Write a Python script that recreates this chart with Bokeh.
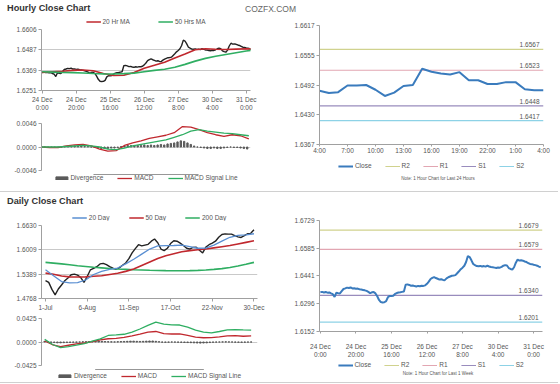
from bokeh.plotting import figure
from bokeh.models import (Div, Legend, LegendItem, Label, FixedTicker,
                          PrintfTickFormatter, Range1d)
from bokeh.layouts import column, row
from bokeh.embed import file_html
from bokeh.resources import INLINE

FONT = "Liberation Sans"
TXT = "#555555"
GRID = "#c9c9c9"
AXIS = "#a0a0a0"
BLACK = "#222222"
RED = "#c0282e"
GREEN = "#2fae62"
BLUE = "#5a8fd2"
CLOSE_BLUE = "#3a7bbd"
DIV_GRAY = "#5a5a5a"
LEVEL_COLORS = ["#d0d28e", "#e2a6b2", "#998cbd", "#8dd2e6"]
LEVEL_NAMES = ["R2", "R1", "S1", "S2"]

# ---------------- hourly (last week) ----------------
hourly_tick_pos = [0, 20, 40, 60, 80, 100, 120]
hourly_tick_labels = ["24 Dec\n0:00", "24 Dec\n20:00", "25 Dec\n16:00", "26 Dec\n12:00",
                      "27 Dec\n8:00", "30 Dec\n4:00", "31 Dec\n0:00"]
hourly_close = [
    1.6356, 1.6358, 1.6355, 1.6357, 1.6354, 1.6355, 1.6350, 1.6346, 1.6332, 1.6354,
    1.6351, 1.6350, 1.6362, 1.6373, 1.6376, 1.6380, 1.6378, 1.6381, 1.6376, 1.6377,
    1.6374, 1.6375, 1.6372, 1.6370, 1.6368, 1.6366, 1.6363, 1.6358, 1.6351, 1.6356,
    1.6357, 1.6350, 1.6335, 1.6316, 1.6305, 1.6303, 1.6304, 1.6310, 1.6330, 1.6337,
    1.6336, 1.6338, 1.6347, 1.6352, 1.6355, 1.6356, 1.6358, 1.6360, 1.6395, 1.6397,
    1.6394, 1.6390, 1.6391, 1.6388, 1.6386, 1.6389, 1.6387, 1.6390, 1.6389, 1.6392,
    1.6400, 1.6411, 1.6425, 1.6431, 1.6435, 1.6430, 1.6426, 1.6422, 1.6424, 1.6420,
    1.6419, 1.6428, 1.6434, 1.6438, 1.6442, 1.6443, 1.6445, 1.6455, 1.6465, 1.6476,
    1.6484, 1.6494, 1.6513, 1.6544, 1.6539, 1.6522, 1.6503, 1.6497, 1.6492, 1.6491,
    1.6493, 1.6490, 1.6492, 1.6489, 1.6494, 1.6490, 1.6487, 1.6486, 1.6484, 1.6482,
    1.6485, 1.6484, 1.6488, 1.6494, 1.6497, 1.6495, 1.6482, 1.6477, 1.6474, 1.6486,
    1.6510, 1.6526, 1.6521, 1.6522, 1.6520, 1.6516, 1.6513, 1.6508, 1.6503, 1.6502,
    1.6499, 1.6497, 1.6494, 1.6489, 1.6486,
]
hourly_index = list(range(len(hourly_close)))

ma_hours = [0, 6, 12, 18, 24, 30, 36, 42, 48, 54, 60, 66, 72, 78, 84, 90, 96, 102, 108, 114, 120, 124]
ma20_hourly = [1.6356, 1.6360, 1.6363, 1.6368, 1.6370, 1.6366, 1.6350, 1.6338, 1.6340, 1.6356, 1.6380,
               1.6398, 1.6415, 1.6440, 1.6463, 1.6488, 1.6494, 1.6491, 1.6490, 1.6492, 1.6494, 1.6493]
ma50_hourly = [1.6360, 1.6358, 1.6356, 1.6355, 1.6353, 1.6350, 1.6348, 1.6347, 1.6349, 1.6352, 1.6360,
               1.6368, 1.6375, 1.6386, 1.6403, 1.6422, 1.6438, 1.6450, 1.6461, 1.6471, 1.6481, 1.6486]
hourly_price_ticks = [1.6251, 1.6369, 1.6487, 1.6606]

macd_hours = [0, 5, 10, 15, 20, 25, 30, 35, 40, 45, 50, 55, 60, 65, 70, 75, 80, 85, 90, 95, 100, 105, 110, 115, 120, 125]
macd_hourly = [0.0000, -0.0001, -0.0001, 0.0002, 0.0004, 0.0005, 0.0002, -0.0004, -0.0008, -0.0007, 0.0003,
               0.0008, 0.0012, 0.0017, 0.0020, 0.0023, 0.0028, 0.0040, 0.0039, 0.0034, 0.0028, 0.0024,
               0.0021, 0.0024, 0.0022, 0.0016]
signal_hourly = [0.0000, 0.0000, 0.0000, 0.0001, 0.0002, 0.0003, 0.0002, 0.0000, -0.0004, -0.0005, -0.0002,
                 0.0002, 0.0005, 0.0008, 0.0011, 0.0014, 0.0019, 0.0024, 0.0031, 0.0034, 0.0031, 0.0029,
                 0.0027, 0.0026, 0.0024, 0.0022]
div_hours = list(range(0, 125, 2))
divergence_hourly = [
    0.0000, 0.0000, -0.0001, -0.0001, -0.0001, -0.0001, 0.0000, 0.0001, 0.0001, 0.0001,
    0.0002, 0.0002, 0.0002, 0.0001, 0.0001, 0.0000, -0.0001, -0.0002, -0.0003, -0.0003,
    -0.0003, -0.0002, -0.0002, -0.0001, 0.0001, 0.0002, 0.0003, 0.0003, 0.0003, 0.0003,
    0.0003, 0.0004, 0.0003, 0.0004, 0.0003, 0.0004, 0.0005, 0.0004, 0.0006, 0.0007,
    0.0008, 0.0010, 0.0012, 0.0011, 0.0008, 0.0005, 0.0002, 0.0000, -0.0001, -0.0002,
    -0.0003, -0.0003, -0.0002, -0.0003, -0.0003, -0.0002, -0.0001, 0.0000, -0.0001, -0.0001,
    -0.0002, -0.0003, -0.0004,
]
macd_hourly_ticks = [-0.0046, 0.0, 0.0046]

# ---------------- last 24 hours ----------------
day_tick_pos = [0, 3, 6, 9, 12, 15, 18, 21, 24]
day_tick_labels = ["4:00", "7:00", "10:00", "13:00", "16:00", "19:00", "22:00", "1:00", "4:00"]
day_close = [1.6480, 1.6475, 1.6477, 1.6491, 1.6491, 1.6492, 1.6482, 1.6469, 1.6476, 1.6490,
             1.6492, 1.6526, 1.6520, 1.6516, 1.6514, 1.6519, 1.6502, 1.6502, 1.6494, 1.6494,
             1.6498, 1.6498, 1.6483, 1.6481, 1.6481]
day_index = list(range(len(day_close)))
day_levels = [1.6567, 1.6523, 1.6448, 1.6417]
day_ticks = [1.6367, 1.6430, 1.6492, 1.6555, 1.6617]

# ---------------- daily ----------------
daily_tick_pos = [0, 26, 52, 78, 104, 130]
daily_tick_labels = ["1-Jul", "6-Aug", "11-Sep", "17-Oct", "22-Nov", "30-Dec"]
close_days = list(range(0, 131, 2))
daily_close = [1.5225, 1.5180, 1.5000, 1.4860, 1.5010, 1.5113, 1.5220, 1.5290, 1.5375, 1.5390,
               1.5365, 1.5300, 1.5180, 1.5330, 1.5500, 1.5535, 1.5580, 1.5650, 1.5665, 1.5630,
               1.5580, 1.5540, 1.5515, 1.5550, 1.5615, 1.5675, 1.5785, 1.5930, 1.6040, 1.6140,
               1.6110, 1.6130, 1.6150, 1.6230, 1.6285, 1.6190, 1.6030, 1.5990, 1.6050, 1.6170,
               1.6240, 1.6230, 1.6180, 1.6120, 1.6050, 1.6030, 1.6070, 1.6075, 1.6000, 1.5930,
               1.6080, 1.6140, 1.6180, 1.6230, 1.6330, 1.6400, 1.6415, 1.6410, 1.6410, 1.6370,
               1.6340, 1.6325, 1.6370, 1.6420, 1.6430, 1.6520]
ma_days = [0, 5, 10, 15, 20, 25, 30, 35, 40, 45, 50, 55, 60, 65, 70, 75, 80, 85, 90, 95, 100, 105, 110, 115, 120, 125, 130]
ma20_daily = [1.5500, 1.5350, 1.5200, 1.5165, 1.5175, 1.5240, 1.5380, 1.5460, 1.5510, 1.5545, 1.5650,
              1.5770, 1.5900, 1.6030, 1.6110, 1.6115, 1.6120, 1.6130, 1.6090, 1.6050, 1.6055, 1.6130,
              1.6230, 1.6330, 1.6380, 1.6390, 1.6420]
ma50_daily = [1.5415, 1.5385, 1.5340, 1.5320, 1.5315, 1.5320, 1.5335, 1.5350, 1.5380, 1.5410, 1.5460,
              1.5520, 1.5610, 1.5700, 1.5790, 1.5860, 1.5910, 1.5960, 1.5990, 1.6010, 1.6030, 1.6060,
              1.6090, 1.6120, 1.6160, 1.6200, 1.6240]
ma200_daily = [1.5690, 1.5670, 1.5650, 1.5630, 1.5605, 1.5585, 1.5565, 1.5550, 1.5535, 1.5520, 1.5510,
               1.5500, 1.5495, 1.5488, 1.5482, 1.5478, 1.5476, 1.5476, 1.5478, 1.5485, 1.5495, 1.5510,
               1.5530, 1.5560, 1.5595, 1.5640, 1.5690]
daily_price_ticks = [1.4768, 1.5389, 1.6009, 1.6630]

macd_daily = [0.0018, -0.0050, -0.0085, -0.0059, -0.0033, -0.0018, 0.0005, 0.0040, 0.0059, 0.0064, 0.0082,
              0.0110, 0.0142, 0.0177, 0.0190, 0.0150, 0.0145, 0.0145, 0.0118, 0.0090, 0.0077, 0.0078,
              0.0092, 0.0112, 0.0114, 0.0104, 0.0110]
signal_daily = [0.0047, -0.0045, -0.0100, -0.0083, -0.0058, -0.0028, 0.0015, 0.0055, 0.0118, 0.0128, 0.0140,
                0.0178, 0.0235, 0.0301, 0.0360, 0.0325, 0.0310, 0.0307, 0.0270, 0.0215, 0.0178, 0.0165,
                0.0190, 0.0218, 0.0224, 0.0218, 0.0215]
divergence_daily = [
    0.0010, 0.0008, -0.0005, -0.0010, -0.0015, -0.0015, -0.0012, -0.0010, -0.0008, -0.0005,
    -0.0003, 0.0000, 0.0003, 0.0005, 0.0008, 0.0010, 0.0012, 0.0015, 0.0012, 0.0008,
    0.0005, 0.0003, 0.0002, 0.0005, 0.0008, 0.0010, 0.0012, 0.0015, 0.0015, 0.0012,
    0.0010, 0.0012, 0.0015, 0.0018, 0.0018, 0.0012, 0.0005, -0.0003, -0.0005, -0.0003,
    0.0000, -0.0002, -0.0004, -0.0006, -0.0008, -0.0010, -0.0012, -0.0015, -0.0018, -0.0020,
    -0.0018, -0.0015, -0.0010, -0.0005, -0.0002, 0.0000, 0.0002, 0.0003, 0.0002, 0.0000,
    -0.0003, -0.0005, -0.0006, -0.0004, -0.0002, 0.0000,
]
macd_daily_ticks = [-0.0425, 0.0, 0.0425]

week_levels = [1.6679, 1.6579, 1.6340, 1.6201]
week_ticks = [1.6152, 1.6296, 1.6441, 1.6585, 1.6729]


# ---------------- helpers ----------------
def make_fig(w, h, xr, yr, left, right, top, bottom, x_axis=True, grid=True):
    p = figure(width=w, height=h, x_range=Range1d(*xr), y_range=Range1d(*yr), title=None,
               output_backend="svg", toolbar_location=None, tools="",
               min_border_left=left, min_border_right=right,
               min_border_top=top, min_border_bottom=bottom,
               x_axis_location="below" if x_axis else None)
    p.outline_line_color = None
    p.background_fill_color = "white"
    p.border_fill_color = "white"
    p.xgrid.visible = False
    if grid:
        p.ygrid.grid_line_color = GRID
    else:
        p.ygrid.visible = False
    for ax in p.axis:
        ax.axis_line_color = AXIS
        ax.major_tick_line_color = AXIS
        ax.minor_tick_line_color = None
        ax.major_tick_in = 0
        ax.major_tick_out = 3
        ax.major_label_standoff = 2
        ax.major_label_text_font = FONT
        ax.major_label_text_font_size = "6.5px"
        ax.major_label_text_color = TXT
    return p


def set_y(p, ticks):
    p.yaxis.ticker = FixedTicker(ticks=ticks)
    p.yaxis.formatter = PrintfTickFormatter(format="%.4f")


def set_x(p, pos, labels):
    p.xaxis.ticker = FixedTicker(ticks=pos)
    p.xaxis.major_label_overrides = {q: lab for q, lab in zip(pos, labels)}


def legend_strip(w, h, left, specs, spacing, location, margin):
    # a thin strip that only carries a legend; its key renderers sit outside the strip's ranges
    p = figure(width=w, height=h, x_range=Range1d(0, 1), y_range=Range1d(0, 1), title=None,
               output_backend="svg", toolbar_location=None, tools="",
               min_border_left=left, min_border_right=0, min_border_top=0, min_border_bottom=0,
               x_axis_location=None, y_axis_location=None)
    p.outline_line_color = None
    p.grid.visible = False
    items = []
    for label, kind, color, lw in specs:
        if kind == "bar":
            r = p.vbar(x=[0.5], top=[3], bottom=[2], width=0.5, color=color)
        else:
            r = p.line(x=[0, 1], y=[2, 2], line_color=color, line_width=lw)
        items.append(LegendItem(label=label, renderers=[r]))
    p.add_layout(Legend(items=items, orientation="horizontal", location=location,
                        label_text_font=FONT, label_text_font_size="6.5px", label_text_color=TXT,
                        glyph_width=15, glyph_height=4, label_height=7, label_width=0,
                        label_standoff=2, padding=0, spacing=spacing, margin=margin,
                        border_line_color=None, background_fill_alpha=0))
    return p


def text_div(text, w, h, size, bold, color, line_h, pad_left=0, align="left"):
    return Div(text=text, width=w, height=h, margin=0,
               styles={"font-family": FONT, "font-size": size,
                       "font-weight": "bold" if bold else "normal",
                       "color": color, "line-height": f"{line_h}px", "white-space": "nowrap",
                       "padding-left": f"{pad_left}px", "box-sizing": "border-box",
                       "text-align": align})


def add_levels(p, xr, levels):
    for val, col in zip(levels, LEVEL_COLORS):
        p.line([xr[0], xr[1]], [val, val], line_color=col, line_width=1.2)
        p.add_layout(Label(x=xr[1], y=val, text=f"{val:.4f}", text_align="right",
                           text_baseline="bottom", x_offset=-4, y_offset=2,
                           text_font=FONT, text_font_size="6.5px", text_color=TXT))


close_specs = [("Close", "line", CLOSE_BLUE, 2)] + [(n, "line", c, 1) for n, c in zip(LEVEL_NAMES, LEVEL_COLORS)]
macd_specs = [("Divergence", "bar", DIV_GRAY, 1), ("MACD", "line", RED, 1.3),
              ("MACD Signal Line", "line", GREEN, 1.3)]

# ---------------- hourly price (A1) ----------------
a1_leg = legend_strip(270, 8, 37, [("20 Hr MA", "line", RED, 1.6), ("50 Hrs MA", "line", GREEN, 1.6)],
                      28, "center", 0)
a1 = make_fig(270, 88, (-0.4, 122.5), (hourly_price_ticks[0], hourly_price_ticks[-1]), 41, 20, 4, 22)
set_y(a1, hourly_price_ticks)
set_x(a1, hourly_tick_pos, hourly_tick_labels)
a1.line(hourly_index, hourly_close, line_color=BLACK, line_width=1.4)
a1.line(ma_hours, ma20_hourly, line_color=RED, line_width=1.6)
a1.line(ma_hours, ma50_hourly, line_color=GREEN, line_width=1.6)

# ---------------- hourly MACD (A2) ----------------
a2 = make_fig(270, 61, (0, 126), (macd_hourly_ticks[0], macd_hourly_ticks[-1]), 40, 13, 10, 4, x_axis=False)
set_y(a2, macd_hourly_ticks)
a2.vbar(x=div_hours, top=divergence_hourly, bottom=0, width=0.8, color=DIV_GRAY)
a2.line(macd_hours, macd_hourly, line_color=RED, line_width=1.3)
a2.line(macd_hours, signal_hourly, line_color=GREEN, line_width=1.3)
a2_leg = legend_strip(270, 17, 37, macd_specs, 14, "top_center", 0)

# ---------------- last 24 hours (B) ----------------
b_xr = (0, 24)
b = make_fig(288, 139, b_xr, (day_ticks[0], day_ticks[-1]), 49, 15, 8, 11, grid=False)
set_y(b, day_ticks)
set_x(b, day_tick_pos, day_tick_labels)
b.xaxis.major_tick_out = 2
b.xaxis.major_label_standoff = 0
add_levels(b, b_xr, day_levels)
b.line(day_index, day_close, line_color=CLOSE_BLUE, line_width=2)
b_leg = legend_strip(288, 16, 36, close_specs, 13, "top_center", 6)
b_note = text_div("Note: 1 Hour Chart for Last 24 Hours", 288, 19, "4.5px", False, TXT, 14, 48, "center")

# ---------------- daily price (C1) ----------------
c1_leg = legend_strip(270, 8, 20, [("20 Day", "line", BLUE, 1.3), ("50 Day", "line", RED, 1.6),
                                   ("200 Day", "line", GREEN, 1.6)], 19, "center", 0)
c1 = make_fig(270, 92, (-2.5, 132.2), (daily_price_ticks[0], daily_price_ticks[-1]), 41, 13, 4, 14)
set_y(c1, daily_price_ticks)
set_x(c1, daily_tick_pos, daily_tick_labels)
c1.line(close_days, daily_close, line_color=BLACK, line_width=1.4)
c1.line(ma_days, ma200_daily, line_color=GREEN, line_width=1.6)
c1.line(ma_days, ma50_daily, line_color=RED, line_width=1.6)
c1.line(ma_days, ma20_daily, line_color=BLUE, line_width=1.3)

# ---------------- daily MACD (C2) ----------------
c2 = make_fig(270, 56, (-2, 134), (macd_daily_ticks[0], macd_daily_ticks[-1]), 40, 12, 5, 4, x_axis=False)
set_y(c2, macd_daily_ticks)
c2.vbar(x=close_days, top=divergence_daily, bottom=0, width=1.0, color=DIV_GRAY)
c2.line(ma_days, macd_daily, line_color=RED, line_width=1.3)
c2.line(ma_days, signal_daily, line_color=GREEN, line_width=1.3)
c2_leg = legend_strip(270, 13, 37, macd_specs, 14, "top_center", 3)

# ---------------- last week hourly (D) ----------------
d_xr = (-0.5, 125)
d = make_fig(288, 168, d_xr, (week_ticks[0], week_ticks[-1]), 49, 16, 28, 27, grid=False)
set_y(d, week_ticks)
set_x(d, hourly_tick_pos, hourly_tick_labels)
d.xaxis.major_tick_out = 2
d.xaxis.major_label_standoff = 9
add_levels(d, d_xr, week_levels)
d.line(hourly_index, hourly_close, line_color=CLOSE_BLUE, line_width=2)
d_leg = legend_strip(288, 9, 36, close_specs, 13, "top_center", 1)
d_note = text_div("Note: 1 Hour Chart for Last 1 Week", 288, 13, "4.5px", False, TXT, 10, 48, "center")

# ---------------- page layout ----------------
top_header = row(text_div("Hourly Close Chart", 245, 17, "9.2px", True, "#333333", 17, 7),
                 text_div("COZFX.COM", 313, 17, "8.5px", False, "#666666", 19))
separator = Div(text="", width=558, height=1, margin=0, styles={"background-color": "#d0d0d0"})
bottom_rule = Div(text="", width=558, height=1, margin=0, styles={"background-color": "#d0d0d0"})
daily_header = text_div("Daily Close Chart", 270, 21, "9.2px", True, "#333333", 18, 7)

page = column(
    top_header,
    row(column(a1_leg, a1, a2, a2_leg), column(b, b_leg, b_note)),
    separator,
    row(column(daily_header, c1_leg, c1, c2, c2_leg), column(d, d_leg, d_note)),
    bottom_rule,
)

open("out.html", "w").write(file_html(page, INLINE))
